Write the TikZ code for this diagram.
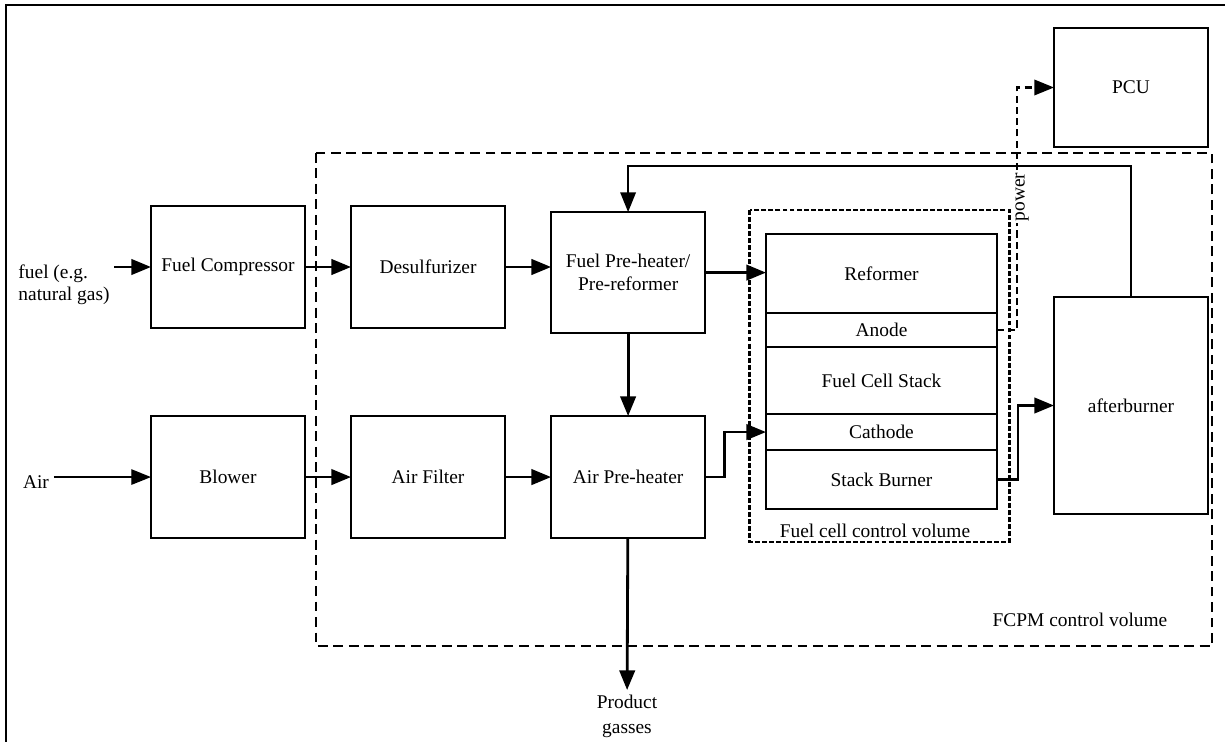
\documentclass[tikz,border=0pt]{standalone}
\usepackage{fontspec}
\setmainfont{Liberation Serif}
\usetikzlibrary{positioning}
\usetikzlibrary{arrows.meta}
\tikzset{flow/.style = {->,> = {Triangle[length=14pt,width=11pt]}, line width=2pt}}
\tikzset{control line/.style = {line width=1.8pt, dash pattern=on 7pt off 4pt}}

\begin{document}
\begin{tikzpicture}[x=0.025cm, y=-0.025cm, node distance=1.15cm, font=\fontsize{13.8}{16}\selectfont,
    block node/.style={rectangle,draw,line width=1.7pt,outer sep=0pt,inner sep=2pt,minimum width=3.85cm,minimum height=3.05cm,align=center},
    cell node/.style={rectangle,draw,line width=1.6pt,outer sep=0pt,inner sep=2pt,minimum width=5.775cm}]
    \useasboundingbox (0,0) rectangle (1225,742);
    \draw[line width=1.2pt] (6,742) -- (6,5) -- (1225,5);
    % control volumes
    \draw[control line] (316,153) rectangle (1212,646);
    \draw[line width=1.6pt, dash pattern=on 3.5pt off 1.5pt] (749.5,210) rectangle (1009.5,542);
    \node (fcpm) at (1080,620) {FCPM control volume};
    \node (fccv) at (875,531) {Fuel cell control volume};
    % fuel line
    \node[block node] (comp) at (228,267) {Fuel Compressor};
    \node[block node] (desulf) [right=of comp] {Desulfurizer};
    \node[block node, minimum height=3.025cm] (preheat) [right=of desulf, yshift=-0.14cm] {Fuel Pre-heater/\\Pre-reformer};
    % air line
    \node[block node] (blower) [below=2.2cm of comp] {Blower};
    \node[block node] (filter) [right=of blower] {Air Filter};
    \node[block node] (airheat) [right=of filter] {Air Pre-heater};
    % stack
    \node[cell node, minimum height=1.975cm, anchor=north] (reformer) at (881.5,234) {Reformer};
    \node[cell node, minimum height=0.85cm] (anode) [below=0pt of reformer] {Anode};
    \node[cell node, minimum height=1.675cm] (stack) [below=0pt of anode] {Fuel Cell Stack};
    \node[cell node, minimum height=0.9cm] (cathode) [below=0pt of stack] {Cathode};
    \node[cell node, minimum height=1.475cm] (burner) [below=0pt of cathode] {Stack Burner};
    \node[block node, minimum height=2.975cm] (pcu) at (1131,87.5) {PCU};
    \node[block node, minimum height=5.425cm] (after) at (1131,405.5) {afterburner};
    % inputs and outputs
    \node[align=left] (fuel) at (64,285) {fuel (e.g.\\natural gas)};
    \node (air) at (36,482) {Air};
    \node[align=center, anchor=north] (product) at (627,690) {Product\\[2pt]gasses};
    \draw[flow] (fuel.east |- comp) -- (comp);
    \draw[flow, line width=1pt] (air.east |- blower) -- (blower);
    \path[flow] (comp) edge (desulf) (blower) edge (filter) (filter) edge (airheat);
    \draw[flow] (desulf.east) -- (desulf.east -| preheat.west);
    \draw[flow] (preheat.east) -- (preheat.east -| reformer.west);
    \path[flow] (preheat) edge (airheat) (airheat) edge (product);
    \draw[flow] (airheat.east) -- ++(19.5,0) |- (cathode.west);
    \draw[flow] (burner.east) -- ++(21,0) |- (after.west);
    \coordinate (bend) at (1131,166);
    \draw[flow, line width=1.2pt] (after.north) -- (bend) -| (preheat.north);
    \draw[flow, line width=1.5pt, dash pattern=on 5pt off 3pt] (anode.east) -- ++(20,0) |- (pcu.west);
    \node[rotate=90, fill=white, inner sep=1pt] (power) at (1022,197) {power};
\end{tikzpicture}
\end{document}
